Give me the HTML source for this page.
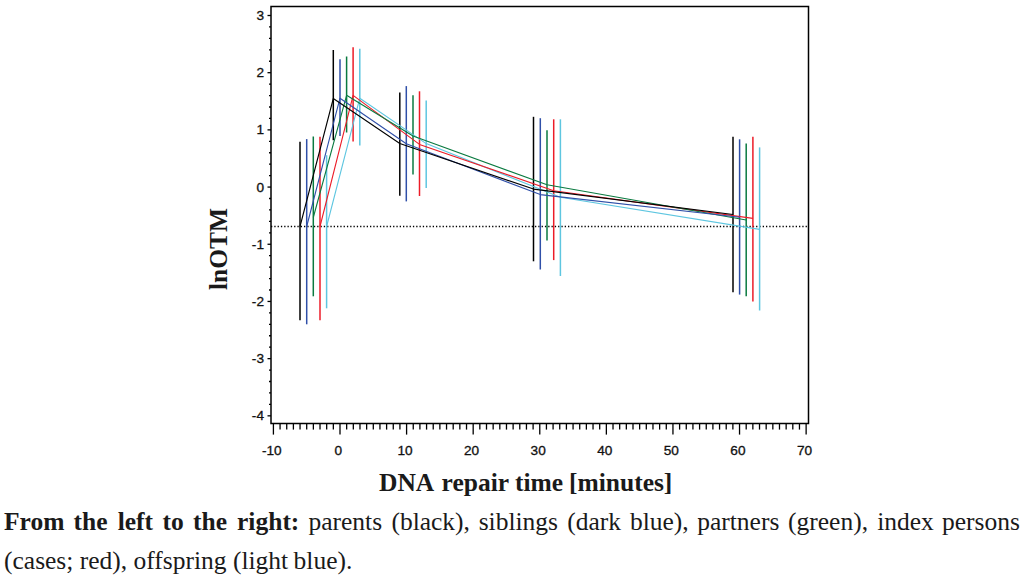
<!DOCTYPE html>
<html><head><meta charset="utf-8">
<style>
html,body{margin:0;padding:0;background:#fff;}
body{width:1024px;height:577px;position:relative;overflow:hidden;}
.tl{font-family:"Liberation Sans",sans-serif;font-size:13px;fill:#111;stroke:#111;stroke-width:0.3px;}
.at{font-family:"Liberation Serif",serif;font-size:25.5px;font-weight:bold;fill:#1a1a1a;}
.cap{position:absolute;left:4px;top:502px;width:1015.5px;font-family:"Liberation Serif",serif;font-size:25.5px;line-height:39px;color:#1a1a1a;text-align:justify;margin:0;}
.cap b{font-weight:bold;}
</style></head><body>
<svg width="1024" height="500" viewBox="0 0 1024 500" style="position:absolute;left:0;top:0">
<line x1="271.0" y1="226.5" x2="808.5" y2="226.5" stroke="#000" stroke-width="1.3" stroke-dasharray="1.3 2"/>
<line x1="300.0" y1="141.8" x2="300.0" y2="320.3" stroke="#000000" stroke-width="1.5"/>
<line x1="333.3" y1="50.0" x2="333.3" y2="140.2" stroke="#000000" stroke-width="1.5"/>
<line x1="399.8" y1="92.5" x2="399.8" y2="195.8" stroke="#000000" stroke-width="1.5"/>
<line x1="533.5" y1="116.8" x2="533.5" y2="261.3" stroke="#000000" stroke-width="1.5"/>
<line x1="733.0" y1="136.8" x2="733.0" y2="292.3" stroke="#000000" stroke-width="1.5"/>
<line x1="306.7" y1="139.1" x2="306.7" y2="324.3" stroke="#2f4fa8" stroke-width="1.5"/>
<line x1="340.0" y1="59.2" x2="340.0" y2="135.9" stroke="#2f4fa8" stroke-width="1.5"/>
<line x1="406.3" y1="86.1" x2="406.3" y2="201.4" stroke="#2f4fa8" stroke-width="1.5"/>
<line x1="540.3" y1="118.2" x2="540.3" y2="269.5" stroke="#2f4fa8" stroke-width="1.5"/>
<line x1="739.6" y1="139.3" x2="739.6" y2="294.6" stroke="#2f4fa8" stroke-width="1.5"/>
<line x1="313.3" y1="136.5" x2="313.3" y2="296.3" stroke="#0a7a40" stroke-width="1.5"/>
<line x1="346.6" y1="56.5" x2="346.6" y2="132.5" stroke="#0a7a40" stroke-width="1.5"/>
<line x1="413.0" y1="95.2" x2="413.0" y2="174.6" stroke="#0a7a40" stroke-width="1.5"/>
<line x1="547.0" y1="130.2" x2="547.0" y2="240.6" stroke="#0a7a40" stroke-width="1.5"/>
<line x1="746.2" y1="143.4" x2="746.2" y2="296.3" stroke="#0a7a40" stroke-width="1.5"/>
<line x1="320.0" y1="136.8" x2="320.0" y2="320.3" stroke="#ec1c28" stroke-width="1.5"/>
<line x1="353.1" y1="47.2" x2="353.1" y2="141.5" stroke="#ec1c28" stroke-width="1.5"/>
<line x1="419.5" y1="91.3" x2="419.5" y2="196.0" stroke="#ec1c28" stroke-width="1.5"/>
<line x1="553.7" y1="119.3" x2="553.7" y2="260.1" stroke="#ec1c28" stroke-width="1.5"/>
<line x1="752.9" y1="136.8" x2="752.9" y2="301.5" stroke="#ec1c28" stroke-width="1.5"/>
<line x1="326.6" y1="155.2" x2="326.6" y2="308.3" stroke="#5ec6e0" stroke-width="1.5"/>
<line x1="359.8" y1="48.7" x2="359.8" y2="145.4" stroke="#5ec6e0" stroke-width="1.5"/>
<line x1="426.2" y1="100.6" x2="426.2" y2="187.9" stroke="#5ec6e0" stroke-width="1.5"/>
<line x1="560.4" y1="119.3" x2="560.4" y2="276.0" stroke="#5ec6e0" stroke-width="1.5"/>
<line x1="759.6" y1="147.4" x2="759.6" y2="310.5" stroke="#5ec6e0" stroke-width="1.5"/>
<polyline points="326.6,226.5 359.8,98.2 426.2,143.6 560.4,197.3 759.6,229.4" fill="none" stroke="#5ec6e0" stroke-width="1.1" stroke-linejoin="round"/>
<polyline points="320.0,226.5 353.1,95.4 419.5,144.4 553.7,190.7 752.9,218.4" fill="none" stroke="#ec1c28" stroke-width="1.1" stroke-linejoin="round"/>
<polyline points="313.3,217.5 346.6,95.3 413.0,136.0 547.0,184.8 746.2,220.0" fill="none" stroke="#0a7a40" stroke-width="1.1" stroke-linejoin="round"/>
<polyline points="306.7,226.5 340.0,98.2 406.3,143.7 540.3,194.6 739.6,217.3" fill="none" stroke="#2f4fa8" stroke-width="1.1" stroke-linejoin="round"/>
<polyline points="300.0,226.5 333.3,98.5 399.8,143.5 533.5,189.1 733.0,214.5" fill="none" stroke="#000000" stroke-width="1.1" stroke-linejoin="round"/>
<path d="M271.0,423.6 L271.0,6.4 L808.5,6.4 L808.5,423.6 Z" fill="none" stroke="#000" stroke-width="1.5"/>
<line x1="267.50" y1="15.50" x2="271.0" y2="15.50" stroke="#000" stroke-width="1.3"/>
<line x1="269.00" y1="26.94" x2="271.0" y2="26.94" stroke="#000" stroke-width="1.3"/>
<line x1="269.00" y1="38.38" x2="271.0" y2="38.38" stroke="#000" stroke-width="1.3"/>
<line x1="269.00" y1="49.81" x2="271.0" y2="49.81" stroke="#000" stroke-width="1.3"/>
<line x1="269.00" y1="61.25" x2="271.0" y2="61.25" stroke="#000" stroke-width="1.3"/>
<line x1="267.50" y1="72.69" x2="271.0" y2="72.69" stroke="#000" stroke-width="1.3"/>
<line x1="269.00" y1="84.13" x2="271.0" y2="84.13" stroke="#000" stroke-width="1.3"/>
<line x1="269.00" y1="95.57" x2="271.0" y2="95.57" stroke="#000" stroke-width="1.3"/>
<line x1="269.00" y1="107.00" x2="271.0" y2="107.00" stroke="#000" stroke-width="1.3"/>
<line x1="269.00" y1="118.44" x2="271.0" y2="118.44" stroke="#000" stroke-width="1.3"/>
<line x1="267.50" y1="129.88" x2="271.0" y2="129.88" stroke="#000" stroke-width="1.3"/>
<line x1="269.00" y1="141.32" x2="271.0" y2="141.32" stroke="#000" stroke-width="1.3"/>
<line x1="269.00" y1="152.76" x2="271.0" y2="152.76" stroke="#000" stroke-width="1.3"/>
<line x1="269.00" y1="164.19" x2="271.0" y2="164.19" stroke="#000" stroke-width="1.3"/>
<line x1="269.00" y1="175.63" x2="271.0" y2="175.63" stroke="#000" stroke-width="1.3"/>
<line x1="267.50" y1="187.07" x2="271.0" y2="187.07" stroke="#000" stroke-width="1.3"/>
<line x1="269.00" y1="198.51" x2="271.0" y2="198.51" stroke="#000" stroke-width="1.3"/>
<line x1="269.00" y1="209.95" x2="271.0" y2="209.95" stroke="#000" stroke-width="1.3"/>
<line x1="269.00" y1="221.38" x2="271.0" y2="221.38" stroke="#000" stroke-width="1.3"/>
<line x1="269.00" y1="232.82" x2="271.0" y2="232.82" stroke="#000" stroke-width="1.3"/>
<line x1="267.50" y1="244.26" x2="271.0" y2="244.26" stroke="#000" stroke-width="1.3"/>
<line x1="269.00" y1="255.70" x2="271.0" y2="255.70" stroke="#000" stroke-width="1.3"/>
<line x1="269.00" y1="267.14" x2="271.0" y2="267.14" stroke="#000" stroke-width="1.3"/>
<line x1="269.00" y1="278.57" x2="271.0" y2="278.57" stroke="#000" stroke-width="1.3"/>
<line x1="269.00" y1="290.01" x2="271.0" y2="290.01" stroke="#000" stroke-width="1.3"/>
<line x1="267.50" y1="301.45" x2="271.0" y2="301.45" stroke="#000" stroke-width="1.3"/>
<line x1="269.00" y1="312.89" x2="271.0" y2="312.89" stroke="#000" stroke-width="1.3"/>
<line x1="269.00" y1="324.33" x2="271.0" y2="324.33" stroke="#000" stroke-width="1.3"/>
<line x1="269.00" y1="335.76" x2="271.0" y2="335.76" stroke="#000" stroke-width="1.3"/>
<line x1="269.00" y1="347.20" x2="271.0" y2="347.20" stroke="#000" stroke-width="1.3"/>
<line x1="267.50" y1="358.64" x2="271.0" y2="358.64" stroke="#000" stroke-width="1.3"/>
<line x1="269.00" y1="370.08" x2="271.0" y2="370.08" stroke="#000" stroke-width="1.3"/>
<line x1="269.00" y1="381.52" x2="271.0" y2="381.52" stroke="#000" stroke-width="1.3"/>
<line x1="269.00" y1="392.95" x2="271.0" y2="392.95" stroke="#000" stroke-width="1.3"/>
<line x1="269.00" y1="404.39" x2="271.0" y2="404.39" stroke="#000" stroke-width="1.3"/>
<line x1="267.50" y1="415.83" x2="271.0" y2="415.83" stroke="#000" stroke-width="1.3"/>
<line x1="273.41" y1="423.6" x2="273.41" y2="434.6" stroke="#000" stroke-width="1.3"/>
<line x1="280.07" y1="423.6" x2="280.07" y2="429.6" stroke="#000" stroke-width="1.3"/>
<line x1="286.73" y1="423.6" x2="286.73" y2="429.6" stroke="#000" stroke-width="1.3"/>
<line x1="293.39" y1="423.6" x2="293.39" y2="429.6" stroke="#000" stroke-width="1.3"/>
<line x1="300.05" y1="423.6" x2="300.05" y2="429.6" stroke="#000" stroke-width="1.3"/>
<line x1="306.70" y1="423.6" x2="306.70" y2="429.6" stroke="#000" stroke-width="1.3"/>
<line x1="313.36" y1="423.6" x2="313.36" y2="429.6" stroke="#000" stroke-width="1.3"/>
<line x1="320.02" y1="423.6" x2="320.02" y2="429.6" stroke="#000" stroke-width="1.3"/>
<line x1="326.68" y1="423.6" x2="326.68" y2="429.6" stroke="#000" stroke-width="1.3"/>
<line x1="333.34" y1="423.6" x2="333.34" y2="429.6" stroke="#000" stroke-width="1.3"/>
<line x1="340.00" y1="423.6" x2="340.00" y2="434.6" stroke="#000" stroke-width="1.3"/>
<line x1="346.66" y1="423.6" x2="346.66" y2="429.6" stroke="#000" stroke-width="1.3"/>
<line x1="353.32" y1="423.6" x2="353.32" y2="429.6" stroke="#000" stroke-width="1.3"/>
<line x1="359.98" y1="423.6" x2="359.98" y2="429.6" stroke="#000" stroke-width="1.3"/>
<line x1="366.64" y1="423.6" x2="366.64" y2="429.6" stroke="#000" stroke-width="1.3"/>
<line x1="373.30" y1="423.6" x2="373.30" y2="429.6" stroke="#000" stroke-width="1.3"/>
<line x1="379.95" y1="423.6" x2="379.95" y2="429.6" stroke="#000" stroke-width="1.3"/>
<line x1="386.61" y1="423.6" x2="386.61" y2="429.6" stroke="#000" stroke-width="1.3"/>
<line x1="393.27" y1="423.6" x2="393.27" y2="429.6" stroke="#000" stroke-width="1.3"/>
<line x1="399.93" y1="423.6" x2="399.93" y2="429.6" stroke="#000" stroke-width="1.3"/>
<line x1="406.59" y1="423.6" x2="406.59" y2="434.6" stroke="#000" stroke-width="1.3"/>
<line x1="413.25" y1="423.6" x2="413.25" y2="429.6" stroke="#000" stroke-width="1.3"/>
<line x1="419.91" y1="423.6" x2="419.91" y2="429.6" stroke="#000" stroke-width="1.3"/>
<line x1="426.57" y1="423.6" x2="426.57" y2="429.6" stroke="#000" stroke-width="1.3"/>
<line x1="433.23" y1="423.6" x2="433.23" y2="429.6" stroke="#000" stroke-width="1.3"/>
<line x1="439.88" y1="423.6" x2="439.88" y2="429.6" stroke="#000" stroke-width="1.3"/>
<line x1="446.54" y1="423.6" x2="446.54" y2="429.6" stroke="#000" stroke-width="1.3"/>
<line x1="453.20" y1="423.6" x2="453.20" y2="429.6" stroke="#000" stroke-width="1.3"/>
<line x1="459.86" y1="423.6" x2="459.86" y2="429.6" stroke="#000" stroke-width="1.3"/>
<line x1="466.52" y1="423.6" x2="466.52" y2="429.6" stroke="#000" stroke-width="1.3"/>
<line x1="473.18" y1="423.6" x2="473.18" y2="434.6" stroke="#000" stroke-width="1.3"/>
<line x1="479.84" y1="423.6" x2="479.84" y2="429.6" stroke="#000" stroke-width="1.3"/>
<line x1="486.50" y1="423.6" x2="486.50" y2="429.6" stroke="#000" stroke-width="1.3"/>
<line x1="493.16" y1="423.6" x2="493.16" y2="429.6" stroke="#000" stroke-width="1.3"/>
<line x1="499.82" y1="423.6" x2="499.82" y2="429.6" stroke="#000" stroke-width="1.3"/>
<line x1="506.48" y1="423.6" x2="506.48" y2="429.6" stroke="#000" stroke-width="1.3"/>
<line x1="513.13" y1="423.6" x2="513.13" y2="429.6" stroke="#000" stroke-width="1.3"/>
<line x1="519.79" y1="423.6" x2="519.79" y2="429.6" stroke="#000" stroke-width="1.3"/>
<line x1="526.45" y1="423.6" x2="526.45" y2="429.6" stroke="#000" stroke-width="1.3"/>
<line x1="533.11" y1="423.6" x2="533.11" y2="429.6" stroke="#000" stroke-width="1.3"/>
<line x1="539.77" y1="423.6" x2="539.77" y2="434.6" stroke="#000" stroke-width="1.3"/>
<line x1="546.43" y1="423.6" x2="546.43" y2="429.6" stroke="#000" stroke-width="1.3"/>
<line x1="553.09" y1="423.6" x2="553.09" y2="429.6" stroke="#000" stroke-width="1.3"/>
<line x1="559.75" y1="423.6" x2="559.75" y2="429.6" stroke="#000" stroke-width="1.3"/>
<line x1="566.41" y1="423.6" x2="566.41" y2="429.6" stroke="#000" stroke-width="1.3"/>
<line x1="573.07" y1="423.6" x2="573.07" y2="429.6" stroke="#000" stroke-width="1.3"/>
<line x1="579.72" y1="423.6" x2="579.72" y2="429.6" stroke="#000" stroke-width="1.3"/>
<line x1="586.38" y1="423.6" x2="586.38" y2="429.6" stroke="#000" stroke-width="1.3"/>
<line x1="593.04" y1="423.6" x2="593.04" y2="429.6" stroke="#000" stroke-width="1.3"/>
<line x1="599.70" y1="423.6" x2="599.70" y2="429.6" stroke="#000" stroke-width="1.3"/>
<line x1="606.36" y1="423.6" x2="606.36" y2="434.6" stroke="#000" stroke-width="1.3"/>
<line x1="613.02" y1="423.6" x2="613.02" y2="429.6" stroke="#000" stroke-width="1.3"/>
<line x1="619.68" y1="423.6" x2="619.68" y2="429.6" stroke="#000" stroke-width="1.3"/>
<line x1="626.34" y1="423.6" x2="626.34" y2="429.6" stroke="#000" stroke-width="1.3"/>
<line x1="633.00" y1="423.6" x2="633.00" y2="429.6" stroke="#000" stroke-width="1.3"/>
<line x1="639.65" y1="423.6" x2="639.65" y2="429.6" stroke="#000" stroke-width="1.3"/>
<line x1="646.31" y1="423.6" x2="646.31" y2="429.6" stroke="#000" stroke-width="1.3"/>
<line x1="652.97" y1="423.6" x2="652.97" y2="429.6" stroke="#000" stroke-width="1.3"/>
<line x1="659.63" y1="423.6" x2="659.63" y2="429.6" stroke="#000" stroke-width="1.3"/>
<line x1="666.29" y1="423.6" x2="666.29" y2="429.6" stroke="#000" stroke-width="1.3"/>
<line x1="672.95" y1="423.6" x2="672.95" y2="434.6" stroke="#000" stroke-width="1.3"/>
<line x1="679.61" y1="423.6" x2="679.61" y2="429.6" stroke="#000" stroke-width="1.3"/>
<line x1="686.27" y1="423.6" x2="686.27" y2="429.6" stroke="#000" stroke-width="1.3"/>
<line x1="692.93" y1="423.6" x2="692.93" y2="429.6" stroke="#000" stroke-width="1.3"/>
<line x1="699.59" y1="423.6" x2="699.59" y2="429.6" stroke="#000" stroke-width="1.3"/>
<line x1="706.25" y1="423.6" x2="706.25" y2="429.6" stroke="#000" stroke-width="1.3"/>
<line x1="712.90" y1="423.6" x2="712.90" y2="429.6" stroke="#000" stroke-width="1.3"/>
<line x1="719.56" y1="423.6" x2="719.56" y2="429.6" stroke="#000" stroke-width="1.3"/>
<line x1="726.22" y1="423.6" x2="726.22" y2="429.6" stroke="#000" stroke-width="1.3"/>
<line x1="732.88" y1="423.6" x2="732.88" y2="429.6" stroke="#000" stroke-width="1.3"/>
<line x1="739.54" y1="423.6" x2="739.54" y2="434.6" stroke="#000" stroke-width="1.3"/>
<line x1="746.20" y1="423.6" x2="746.20" y2="429.6" stroke="#000" stroke-width="1.3"/>
<line x1="752.86" y1="423.6" x2="752.86" y2="429.6" stroke="#000" stroke-width="1.3"/>
<line x1="759.52" y1="423.6" x2="759.52" y2="429.6" stroke="#000" stroke-width="1.3"/>
<line x1="766.18" y1="423.6" x2="766.18" y2="429.6" stroke="#000" stroke-width="1.3"/>
<line x1="772.84" y1="423.6" x2="772.84" y2="429.6" stroke="#000" stroke-width="1.3"/>
<line x1="779.49" y1="423.6" x2="779.49" y2="429.6" stroke="#000" stroke-width="1.3"/>
<line x1="786.15" y1="423.6" x2="786.15" y2="429.6" stroke="#000" stroke-width="1.3"/>
<line x1="792.81" y1="423.6" x2="792.81" y2="429.6" stroke="#000" stroke-width="1.3"/>
<line x1="799.47" y1="423.6" x2="799.47" y2="429.6" stroke="#000" stroke-width="1.3"/>
<line x1="806.13" y1="423.6" x2="806.13" y2="434.6" stroke="#000" stroke-width="1.3"/>
<text transform="translate(264.0,20.00) scale(1.05,1)" text-anchor="end" class="tl">3</text>
<text transform="translate(264.0,77.19) scale(1.05,1)" text-anchor="end" class="tl">2</text>
<text transform="translate(264.0,134.38) scale(1.05,1)" text-anchor="end" class="tl">1</text>
<text transform="translate(264.0,191.57) scale(1.05,1)" text-anchor="end" class="tl">0</text>
<text transform="translate(264.0,248.76) scale(1.05,1)" text-anchor="end" class="tl">-1</text>
<text transform="translate(264.0,305.95) scale(1.05,1)" text-anchor="end" class="tl">-2</text>
<text transform="translate(264.0,363.14) scale(1.05,1)" text-anchor="end" class="tl">-3</text>
<text transform="translate(264.0,420.33) scale(1.05,1)" text-anchor="end" class="tl">-4</text>
<text transform="translate(271.81,455.4) scale(1.05,1)" text-anchor="middle" class="tl">-10</text>
<text transform="translate(338.40,455.4) scale(1.05,1)" text-anchor="middle" class="tl">0</text>
<text transform="translate(404.99,455.4) scale(1.05,1)" text-anchor="middle" class="tl">10</text>
<text transform="translate(471.58,455.4) scale(1.05,1)" text-anchor="middle" class="tl">20</text>
<text transform="translate(538.17,455.4) scale(1.05,1)" text-anchor="middle" class="tl">30</text>
<text transform="translate(604.76,455.4) scale(1.05,1)" text-anchor="middle" class="tl">40</text>
<text transform="translate(671.35,455.4) scale(1.05,1)" text-anchor="middle" class="tl">50</text>
<text transform="translate(737.94,455.4) scale(1.05,1)" text-anchor="middle" class="tl">60</text>
<text transform="translate(804.53,455.4) scale(1.05,1)" text-anchor="middle" class="tl">70</text>
<text x="379.0" y="491.1" class="at">DNA <tspan dx="2.4">repair time </tspan><tspan dx="-0.6">[minutes]</tspan></text>
<text transform="translate(226.9,249) rotate(-90)" text-anchor="middle" class="at">lnOTM</text>
</svg>
<p class="cap"><b>From</b> <b>the</b> <span style="position:relative;left:1.0px"><b>left</b></span> <span style="position:relative;left:1.5px"><b>to</b></span> <span style="position:relative;left:1.5px"><b>the</b></span> <span style="position:relative;left:2.5px"><b>right:</b></span> <span style="position:relative;left:2.5px">parents</span> <span style="position:relative;left:2.7px">(black),</span> <span style="position:relative;left:2.3px">siblings</span> <span style="position:relative;left:2.3px">(dark</span> <span style="position:relative;left:2.2px">blue),</span> <span style="position:relative;left:1.6px">partners</span> <span style="position:relative;left:1.2px">(green),</span> <span style="position:relative;left:1.2px">index</span> <span style="position:relative;left:0.3px">persons</span> (cases; red), offspring (light <span style="position:relative;left:-1px">blue).</span></p>
</body></html>
